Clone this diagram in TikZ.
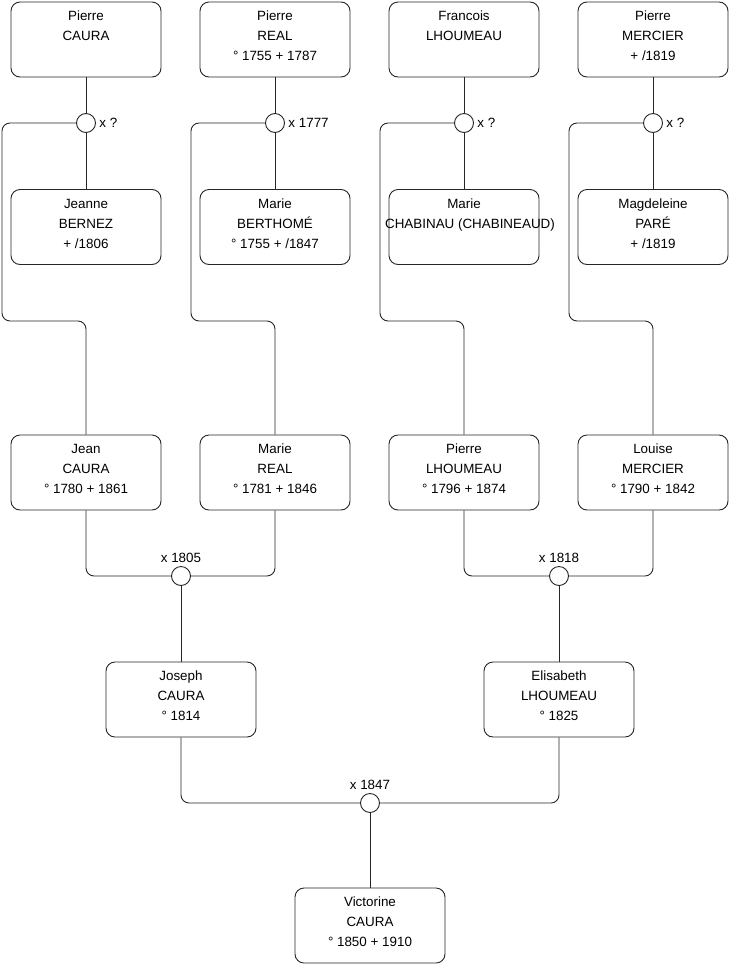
\documentclass[tikz,border=0pt]{standalone}
\usepackage{fontspec}
\setmainfont{Liberation Sans}
\usetikzlibrary{positioning}

\begin{document}
\begin{tikzpicture}[
    x=1pt, y=-1pt,
    person/.style={
        rectangle,
        draw=black!85,
        line width=0.9pt,
        rounded corners=9pt,
        minimum width=150pt,
        minimum height=75pt,
        align=center,
        text depth=7pt,
        font=\fontsize{13.4}{20}\selectfont
    },
    union/.style={
        circle,
        draw=black!85,
        fill=white,
        line width=0.9pt,
        minimum size=19pt,
        inner sep=0pt,
        label distance=0pt
    },
    every label/.append style={font=\fontsize{13.4}{16}\selectfont},
    link/.style={
        draw=black!85,
        line width=0.9pt,
        rounded corners=8pt
    }
]
    \useasboundingbox (0,0) rectangle (740,975);

    % Great-grandparents
    \node (p1) [person] at (86,39.5)  {Pierre\\CAURA\\\mbox{}};
    \node (p2) [person] at (275,39.5) {Pierre\\REAL\\° 1755 + 1787};
    \node (p3) [person] at (464,39.5) {Francois\\LHOUMEAU\\\mbox{}};
    \node (p4) [person] at (653,39.5) {Pierre\\MERCIER\\+ /1819};

    \node (u1) [union, label=east:{x ?}]    at (86,123)  {};
    \node (u2) [union, label=east:{x 1777}] at (275,123) {};
    \node (u3) [union, label=east:{x ?}]    at (464,123) {};
    \node (u4) [union, label=east:{x ?}]    at (653,123) {};

    \node (w1) [person] at (86,227)  {Jeanne\\BERNEZ\\+ /1806};
    \node (w2) [person] at (275,227) {Marie\\BERTHOMÉ\\° 1755 + /1847};
    \node (w3) [person] at (464,227) {Marie\\\makebox[0pt][c]{\hspace{12pt}CHABINAU (CHABINEAUD)}\\\mbox{}};
    \node (w4) [person] at (653,227) {Magdeleine\\PARÉ\\+ /1819};

    \coordinate (k1) at (2,321);
    \coordinate (k2) at (191,321);
    \coordinate (k3) at (380,321);
    \coordinate (k4) at (569,321);

    % Grandparents
    \node (c1) [person] at (86,472.5)  {Jean\\CAURA\\° 1780 + 1861};
    \node (c2) [person] at (275,472.5) {Marie\\REAL\\° 1781 + 1846};
    \node (c3) [person] at (464,472.5) {Pierre\\LHOUMEAU\\° 1796 + 1874};
    \node (c4) [person] at (653,472.5) {Louise\\MERCIER\\° 1790 + 1842};

    \node (v1) [union, label=above:{x 1805}] at (181,576) {};
    \node (v2) [union, label=above:{x 1818}] at (559,576) {};

    % Parents
    \node (g1) [person] at (181,699.5) {Joseph\\CAURA\\° 1814};
    \node (g2) [person] at (559,699.5) {Elisabeth\\LHOUMEAU\\° 1825};

    \node (t1) [union, label=above:{x 1847}] at (370,803) {};

    \node (vic) [person] at (370,925.5) {Victorine\\CAURA\\° 1850 + 1910};

    % Links
    \foreach \i in {1,...,4} {
        \draw [link] (p\i) -- (u\i);
        \draw [link] (u\i) -- (w\i);
        \draw [link] (u\i.west) -| (k\i) -| (c\i.north);
    }
    \draw [link] (c1.south) |- (v1.west);
    \draw [link] (c2.south) |- (v1.east);
    \draw [link] (v1) -- (g1);
    \draw [link] (c3.south) |- (v2.west);
    \draw [link] (c4.south) |- (v2.east);
    \draw [link] (v2) -- (g2);
    \draw [link] (g1.south) |- (t1.west);
    \draw [link] (g2.south) |- (t1.east);
    \draw [link] (t1) -- (vic);

\end{tikzpicture}
\end{document}
